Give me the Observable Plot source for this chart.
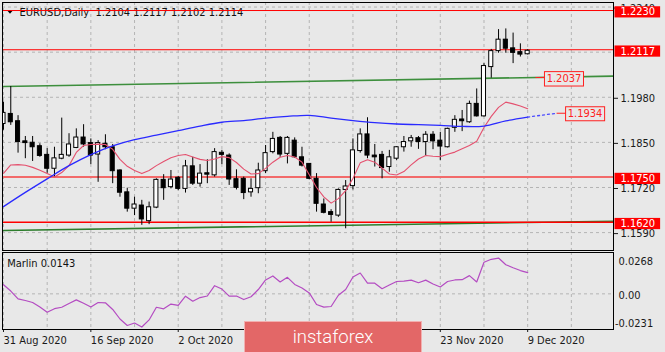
<!DOCTYPE html>
<html><head><meta charset="utf-8">
<script src="https://cdn.jsdelivr.net/npm/d3@7"></script>
<script src="https://cdn.jsdelivr.net/npm/@observablehq/plot@0.6"></script>
<style>
html,body{margin:0;padding:0;background:#e8e8e8;}
#wrap{position:relative;width:665px;height:352px;overflow:hidden;background:#e8e8e8;}
#wrap svg{position:absolute;left:0;}
#wm{position:absolute;left:244px;top:321px;width:178px;height:33px;background:#e36767;border:1px solid #f2b0b0;box-sizing:border-box;color:#fff;font:300 18.5px Roboto,"Open Sans",sans-serif;text-align:center;line-height:30px;}
</style></head><body>
<div id="wrap"><div id="wm">instaforex</div></div>
<script>
// ---- data ----
const tickBars   = [0, 12, 24, 60, 72];
const tickLabels = ["31 Aug 2020","16 Sep 2020","2 Oct 2020","23 Nov 2020","9 Dec 2020"];
const O = [1.1903,1.1932,1.1911,1.1853,1.1849,1.1839,1.1814,1.1774,1.1803,1.1812,
           1.1834,1.1864,1.1848,1.1815,1.1846,1.1836,1.1769,1.1706,1.1659,1.1668,
           1.1623,1.1662,1.1742,1.1721,1.1748,1.1716,1.1781,1.1731,1.1761,1.1755,
           1.1820,1.1812,1.1744,1.1745,1.1706,1.1718,1.1767,1.1822,1.1863,1.1817,
           1.1855,1.1807,1.1788,1.1745,1.1671,1.1649,1.1639,1.1713,1.1724,1.1825,
           1.1873,1.1812,1.1814,1.1779,1.1803,1.1836,1.1853,1.1862,1.1851,1.1872,
           1.1855,1.1836,1.1892,1.1916,1.1908,1.1961,1.1925,1.2067,1.2113,1.2146,
           1.2121,1.2110,1.2104];
const H = [1.1966,1.2011,1.1927,1.1867,1.1867,1.1846,1.1832,1.1836,1.1920,1.1875,
           1.1889,1.1901,1.1860,1.1855,1.1872,1.1844,1.1771,1.1718,1.1692,1.1683,
           1.1678,1.1745,1.1757,1.1769,1.1752,1.1798,1.1807,1.1786,1.1800,1.1832,
           1.1827,1.1817,1.1771,1.1750,1.1745,1.1790,1.1841,1.1879,1.1867,1.1867,
           1.1863,1.1836,1.1788,1.1760,1.1687,1.1656,1.1716,1.1740,1.1860,1.1889,
           1.1921,1.1844,1.1824,1.1827,1.1838,1.1867,1.1870,1.1867,1.1881,1.1881,
           1.1879,1.1891,1.1927,1.1942,1.1969,1.2004,1.2077,1.2118,1.2175,1.2177,
           1.2165,1.2134,1.2117];
const L = [1.1885,1.1899,1.1819,1.1803,1.1795,1.1807,1.1761,1.1750,1.1800,1.1807,
           1.1832,1.1836,1.1786,1.1735,1.1829,1.1731,1.1692,1.1649,1.1639,1.1611,
           1.1613,1.1659,1.1683,1.1716,1.1711,1.1704,1.1726,1.1721,1.1731,1.1750,
           1.1786,1.1726,1.1713,1.1685,1.1692,1.1702,1.1760,1.1817,1.1807,1.1788,
           1.1804,1.1779,1.1742,1.1649,1.1644,1.1620,1.1634,1.1601,1.1713,1.1819,
           1.1803,1.1779,1.1745,1.1764,1.1798,1.1822,1.1836,1.1830,1.1812,1.1829,
           1.1798,1.1834,1.1879,1.1881,1.1905,1.1923,1.1923,1.2035,1.2107,1.2107,
           1.2077,1.2096,1.2102];
const C = [1.1935,1.1908,1.1851,1.1848,1.1836,1.1811,1.1774,1.1804,1.1814,1.1844,
           1.1864,1.1844,1.1812,1.1848,1.1836,1.1767,1.1705,1.1659,1.1671,1.1628,
           1.1663,1.1742,1.1718,1.1743,1.1716,1.1781,1.1731,1.1760,1.1757,1.1822,
           1.1814,1.1743,1.1719,1.1704,1.1716,1.1769,1.1819,1.1860,1.1815,1.1863,
           1.1807,1.1783,1.1745,1.1673,1.1647,1.1641,1.1713,1.1723,1.1827,1.1873,
           1.1812,1.1807,1.1776,1.1807,1.1836,1.1851,1.1862,1.1851,1.1872,1.1853,
           1.1838,1.1889,1.1915,1.1911,1.1961,1.1925,1.2070,1.2113,1.2146,1.2120,
           1.2108,1.2103,1.2114];
const redMA = [1.1761,1.1785,1.1786,1.1784,1.1778,1.1770,1.1760,1.1750,1.1763,1.1783,
               1.1821,1.1841,1.1844,1.1845,1.1844,1.1830,1.1801,1.1781,1.1769,1.1760,
               1.1769,1.1783,1.1795,1.1806,1.1812,1.1815,1.1808,1.1801,1.1798,1.1802,
               1.1809,1.1806,1.1792,1.1773,1.1759,1.1760,1.1775,1.1793,1.1807,1.1812,
               1.1808,1.1793,1.1757,1.1720,1.1693,1.1675,1.1688,1.1711,1.1746,1.1791,
               1.1800,1.1793,1.1776,1.1759,1.1756,1.1766,1.1785,1.1802,1.1812,1.1810,
               1.1809,1.1816,1.1822,1.1832,1.1841,1.1853,1.1893,1.1925,1.1951,1.1966,
               1.1961,1.1955,1.1947];
const blueBars = [0,3,6,9,12,15,18,21,24,27,30,33,36,39,42,45,48,51,54,57,60,63,66,69,72];
const blueMA   = [1.1665,1.1706,1.1745,1.1783,1.1815,1.1840,1.1858,1.1871,1.1884,1.1897,
                  1.1908,1.1913,1.1920,1.1925,1.1928,1.1920,1.1913,1.1907,1.1903,1.1901,
                  1.1899,1.1896,1.1897,1.1912,1.1923];
const blueProjBars = [72, 76];
const blueProj     = [1.1923, 1.1934];
const trendBars  = [0, 84];
const trendUpper = [1.2011, 1.2041];
const trendLower = [1.1596, 1.1623];
const levels     = [1.2230, 1.2117, 1.1750, 1.1620];
const trendLabel = [1.2037];
const maLabel    = [1.1934];
const priceTicks = [1.1590, 1.1720, 1.1850, 1.1980, 1.2240];
const priceGrid  = [1.1590, 1.1720, 1.1850, 1.1980, 1.2110, 1.2240];
const gridBars   = [0,6,12,18,24,30,36,42,48,54,60,66,72,78];
const marlin = [0.0059,0.0018,-0.0033,-0.0043,-0.0056,-0.0085,-0.0119,-0.0096,-0.0087,-0.0062,
                -0.0039,-0.0061,-0.0085,-0.0056,-0.0058,-0.0101,-0.0163,-0.0205,-0.0189,-0.0215,
                -0.0169,-0.0087,-0.0097,-0.0066,-0.0075,-0.0015,-0.0048,-0.0024,-0.0014,0.0053,
                0.0031,-0.0015,-0.0014,-0.0037,-0.0019,0.0028,0.0090,0.0116,0.0077,0.0107,
                0.0061,0.0038,0.0006,-0.0069,-0.0086,-0.0082,-0.0009,0.0028,0.0109,0.0135,
                0.0069,0.0069,0.0033,0.0057,0.0080,0.0083,0.0089,0.0072,0.0089,0.0064,
                0.0044,0.0080,0.0090,0.0092,0.0118,0.0077,0.0205,0.0224,0.0232,0.0189,
                0.0169,0.0151,0.0138];
const marlinLabel = "Marlin 0.0143";
const marlinTicks = [0.0268, 0, -0.0231];
const marlinTickText = ["0.0268", "0.00", "-0.0231"];

// ---- derived tables ----
const candles = O.map((o, i) => ({i, o, h: H[i], l: L[i], c: C[i]}));
const last = O.length - 1;
const fmt4 = d => d.toFixed(4);
const title = `EURUSD,Daily\u00a0 ${fmt4(O[last])} ${fmt4(H[last])} ${fmt4(L[last])} ${fmt4(C[last])}`;
const blue = blueBars.map((i, k) => ({i, p: blueMA[k]}));
const proj = blueProjBars.map((i, k) => ({i, p: blueProj[k]}));
const tUp = trendBars.map((i, k) => ({i, p: trendUpper[k]}));
const tLo = trendBars.map((i, k) => ({i, p: trendLower[k]}));

const FONT = '"DejaVu Sans Condensed","DejaVu Sans",sans-serif';
const GRID = "#b4b4b4";
const xDomain = [-0.137, 83.79];
const flatTriangle = {draw(ctx) { ctx.moveTo(-3, -1.7); ctx.lineTo(3, -1.7); ctx.lineTo(0, 1.7); ctx.closePath(); }};

const main = Plot.plot({
  width: 665, height: 252, marginTop: 2, marginBottom: 2, marginLeft: 2, marginRight: 52,
  style: {background: "#e8e8e8", fontFamily: FONT, fontSize: "11px", color: "#1a1a1a", overflow: "visible"},
  x: {type: "linear", domain: xDomain, axis: null},
  y: {domain: [1.153844, 1.225314], axis: null},
  marks: [
    Plot.ruleX(gridBars, {x: d => d, stroke: GRID, strokeDasharray: "3,3"}),
    Plot.ruleY(priceGrid, {y: d => d, stroke: GRID, strokeDasharray: "3,3"}),
    Plot.dot([0], {frameAnchor: "top-left", dx: 7.5, dy: 9.5, symbol: flatTriangle, fill: "#000", stroke: "none"}),
    Plot.text([title], {frameAnchor: "top-left", dx: 17, dy: 5.5, lineAnchor: "top", textAnchor: "start", fill: "#111"}),
    Plot.line(tUp, {x: "i", y: "p", stroke: "#3d8f3d", strokeWidth: 1.6, clip: true}),
    Plot.line(tLo, {x: "i", y: "p", stroke: "#2c7d2c", strokeWidth: 1.6, clip: true}),
    Plot.ruleY([levels[2]], {y: d => d, stroke: "#f26a6a", strokeWidth: 2}),
    Plot.ruleY([levels[0], levels[1]], {y: d => d, stroke: "#ff0000", strokeWidth: 1}),
    Plot.ruleY([levels[3]], {y: d => d, stroke: "#ff0000", strokeWidth: 1.4}),
    Plot.ruleX(candles, {x: "i", y1: "l", y2: "h", stroke: "#000", clip: true}),
    Plot.rect(candles, {x1: d => d.i - 0.28, x2: d => d.i + 0.28, y1: "o", y2: "c",
      fill: d => d.c >= d.o ? "#fff" : "#000", stroke: "#000", clip: true}),
    Plot.line(redMA, {x: (d, i) => i, y: d => d, stroke: "#e4506e", strokeWidth: 1.1}),
    Plot.line(blue, {x: "i", y: "p", stroke: "#2a2aff", strokeWidth: 1.3, curve: "catmull-rom"}),
    Plot.line(proj, {x: "i", y: "p", stroke: "#4a4aff", strokeWidth: 1.3, strokeDasharray: "2,3"}),
    Plot.axisY(priceTicks, {anchor: "right", tickSize: 4, tickPadding: 3, dy: 1, tickFormat: fmt4}),
    Plot.text(trendLabel, {x: () => last, y: d => d, dx: 19, dy: 1.3, text: fmt4, textAnchor: "start", fill: "#ff2020"}),
    Plot.text(maLabel, {x: () => blueProjBars[1], y: d => d, dx: 11, dy: 0.5, text: fmt4, textAnchor: "start", fill: "#ff2020"}),
    Plot.text(levels, {y: d => d, text: fmt4, frameAnchor: "right", dx: 7, dy: 1.3, textAnchor: "start", fill: "#fff"}),
    Plot.frame({stroke: "#000"})
  ]
});

const osc = Plot.plot({
  width: 665, height: 100, marginTop: 0, marginBottom: 23, marginLeft: 2, marginRight: 52,
  style: {background: "#e8e8e8", fontFamily: FONT, fontSize: "11px", color: "#1a1a1a", overflow: "visible"},
  x: {type: "linear", domain: xDomain, axis: null},
  y: {domain: [-0.0231, 0.0268], axis: null},
  marks: [
    Plot.ruleX(gridBars, {x: d => d, stroke: GRID, strokeDasharray: "3,3"}),
    Plot.ruleY([0], {y: d => d, stroke: GRID, strokeDasharray: "3,3"}),
    Plot.line(marlin, {x: (d, i) => i, y: d => d, stroke: "#b44cc2", strokeWidth: 1.2}),
    Plot.text([marlinLabel], {frameAnchor: "top-left", dx: 4.7, dy: 6.5, lineAnchor: "top", textAnchor: "start", fill: "#111"}),
    Plot.axisY([marlinTicks[0]], {anchor: "right", tickSize: 0, tickPadding: 5, dy: 9, tickFormat: () => marlinTickText[0]}),
    Plot.axisY([marlinTicks[1]], {anchor: "right", tickSize: 0, tickPadding: 5, dy: 2, tickFormat: () => marlinTickText[1]}),
    Plot.axisY([marlinTicks[2]], {anchor: "right", tickSize: 0, tickPadding: 1.5, dy: -5.7, tickFormat: () => marlinTickText[2]}),
    Plot.axisX(tickBars, {anchor: "bottom", tickSize: 3, tickPadding: 4, textAnchor: "start",
      tickFormat: d => tickLabels[tickBars.indexOf(d)]}),
    Plot.frame({stroke: "#000"})
  ]
});

const wrap = document.getElementById("wrap");
main.style.top = "0px";
osc.style.top = "252px";
wrap.insertBefore(osc, wrap.firstChild);
wrap.insertBefore(main, wrap.firstChild);

// label boxes drawn behind the label text marks (matched by their text)
const NS = "http://www.w3.org/2000/svg";
function boxes(svg, strings, o) {
  const want = new Set(strings);
  Array.from(svg.querySelectorAll("text")).filter(t => {
    if (!want.has(t.textContent.trim())) return false;
    const g = t.closest("g");
    const al = g ? (g.getAttribute("aria-label") || "") : "";
    return !/axis/.test(al);
  }).forEach(t => {
    const b = t.getBBox();
    const cy = b.y + b.height / 2;
    const r = document.createElementNS(NS, "rect");
    const x0 = b.x - o.padL;
    r.setAttribute("x", x0);
    r.setAttribute("y", cy - o.h / 2);
    r.setAttribute("width", b.width + o.padL + o.padR);
    r.setAttribute("height", o.h);
    r.setAttribute("fill", o.fill);
    if (o.stroke) { r.setAttribute("stroke", o.stroke); r.setAttribute("stroke-width", 1); }
    const tr = t.getAttribute("transform");
    if (tr) r.setAttribute("transform", tr);
    t.parentNode.insertBefore(r, t);
    if (o.connector) {
      const l = document.createElementNS(NS, "line");
      l.setAttribute("x1", x0 - o.connector); l.setAttribute("x2", x0);
      l.setAttribute("y1", o.cy); l.setAttribute("y2", o.cy);
      l.setAttribute("stroke", o.stroke); l.setAttribute("stroke-width", 1);
      if (tr) l.setAttribute("transform", tr);
      t.parentNode.insertBefore(l, t);
    }
  });
}
boxes(main, levels.map(fmt4), {padL: 6, padR: 5, h: 11.2, fill: "#ff0000"});
boxes(main, trendLabel.map(fmt4), {padL: 2.2, padR: 2.2, h: 14.4, fill: "#e8e8e8", stroke: "#ff2020", connector: 9, cy: -1.3});
boxes(main, maLabel.map(fmt4), {padL: 2.2, padR: 2.2, h: 14, fill: "#e8e8e8", stroke: "#ff2020", connector: 9, cy: -0.5});
</script></body></html>
